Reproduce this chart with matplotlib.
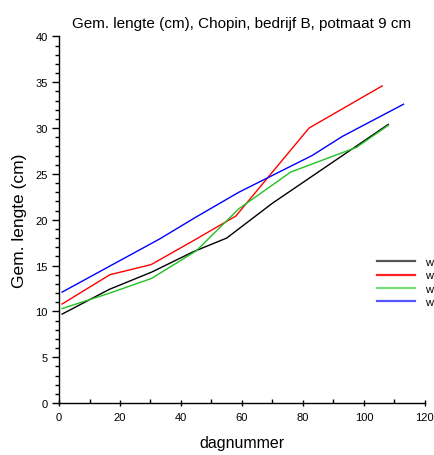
"""
Gemiddelde lengte (cm) van Chopin, bedrijf B, potmaat 9 cm, per dagnummer.
"""

import matplotlib.pyplot as plt
from matplotlib.lines import Line2D
from matplotlib.ticker import MultipleLocator

plt.rcParams["font.family"] = ["Liberation Sans", "DejaVu Sans"]

# Data
dag_zwart = [1, 16.5, 30.5, 44, 55, 70, 108]
lengte_zwart = [9.7, 12.4, 14.3, 16.5, 18.0, 21.8, 30.4]

dag_rood = [1, 16.7, 30.2, 44, 58, 82, 106]
lengte_rood = [10.8, 14.0, 15.1, 17.7, 20.4, 30.0, 34.6]

dag_groen = [1, 16.7, 30.4, 45, 59, 76, 97.6, 108]
lengte_groen = [10.3, 12.0, 13.6, 16.6, 21.2, 25.2, 27.9, 30.3]

dag_blauw = [1, 33, 45, 59, 83, 93, 113]
lengte_blauw = [12.1, 17.9, 20.3, 23.0, 27.0, 29.1, 32.6]

labels = ["w", "w", "w", "w"]
series = [
    (dag_zwart, lengte_zwart, "black", "#555555"),
    (dag_rood, lengte_rood, "#ff0000", "#ff2222"),
    (dag_groen, lengte_groen, "#22c022", "#77dd77"),
    (dag_blauw, lengte_blauw, "#0000ff", "#5555ff"),
]

fig = plt.figure(figsize=(4.34, 4.56), dpi=100)
ax = fig.add_axes([0.136, 0.114, 0.843, 0.804])

handles = []
for (x, y, kleur, legkleur), lab in zip(series, labels):
    ax.plot(x, y, color=kleur, linewidth=1.0)
    handles.append(Line2D([], [], color=legkleur, linewidth=1.6, label=lab))

ax.set_xlim(0, 120)
ax.set_ylim(0, 40)
ax.xaxis.set_major_locator(MultipleLocator(20))
ax.xaxis.set_minor_locator(MultipleLocator(10))
ax.yaxis.set_major_locator(MultipleLocator(5))
ax.yaxis.set_minor_locator(MultipleLocator(1))

for side in ["top", "right"]:
    ax.spines[side].set_visible(False)
ax.spines["left"].set_linewidth(1.0)
ax.spines["bottom"].set_linewidth(1.0)

ax.tick_params(axis="x", which="major", direction="inout", length=5, width=1,
               labelsize=8, pad=4)
ax.tick_params(axis="x", which="minor", direction="in", length=3, width=1)
ax.tick_params(axis="y", which="major", direction="out", length=5, width=1,
               labelsize=8, pad=3)
ax.tick_params(axis="y", which="minor", direction="out", length=3, width=1)

ax.set_title("Gem. lengte (cm), Chopin, bedrijf B, potmaat 9 cm",
             fontsize=11, pad=7)
ax.set_xlabel("dagnummer", fontsize=11.5, labelpad=9)
ax.set_ylabel("Gem. lengte (cm)", fontsize=12.5, labelpad=6)

fig.legend(handles=handles, loc="upper left",
           bbox_to_anchor=(374 / 434, 1 - 255 / 456),
           frameon=False, fontsize=8, handlelength=3.4, handletextpad=0.9,
           labelspacing=0.28, borderaxespad=0, borderpad=0.3)

fig.savefig("out.png", dpi=100)
